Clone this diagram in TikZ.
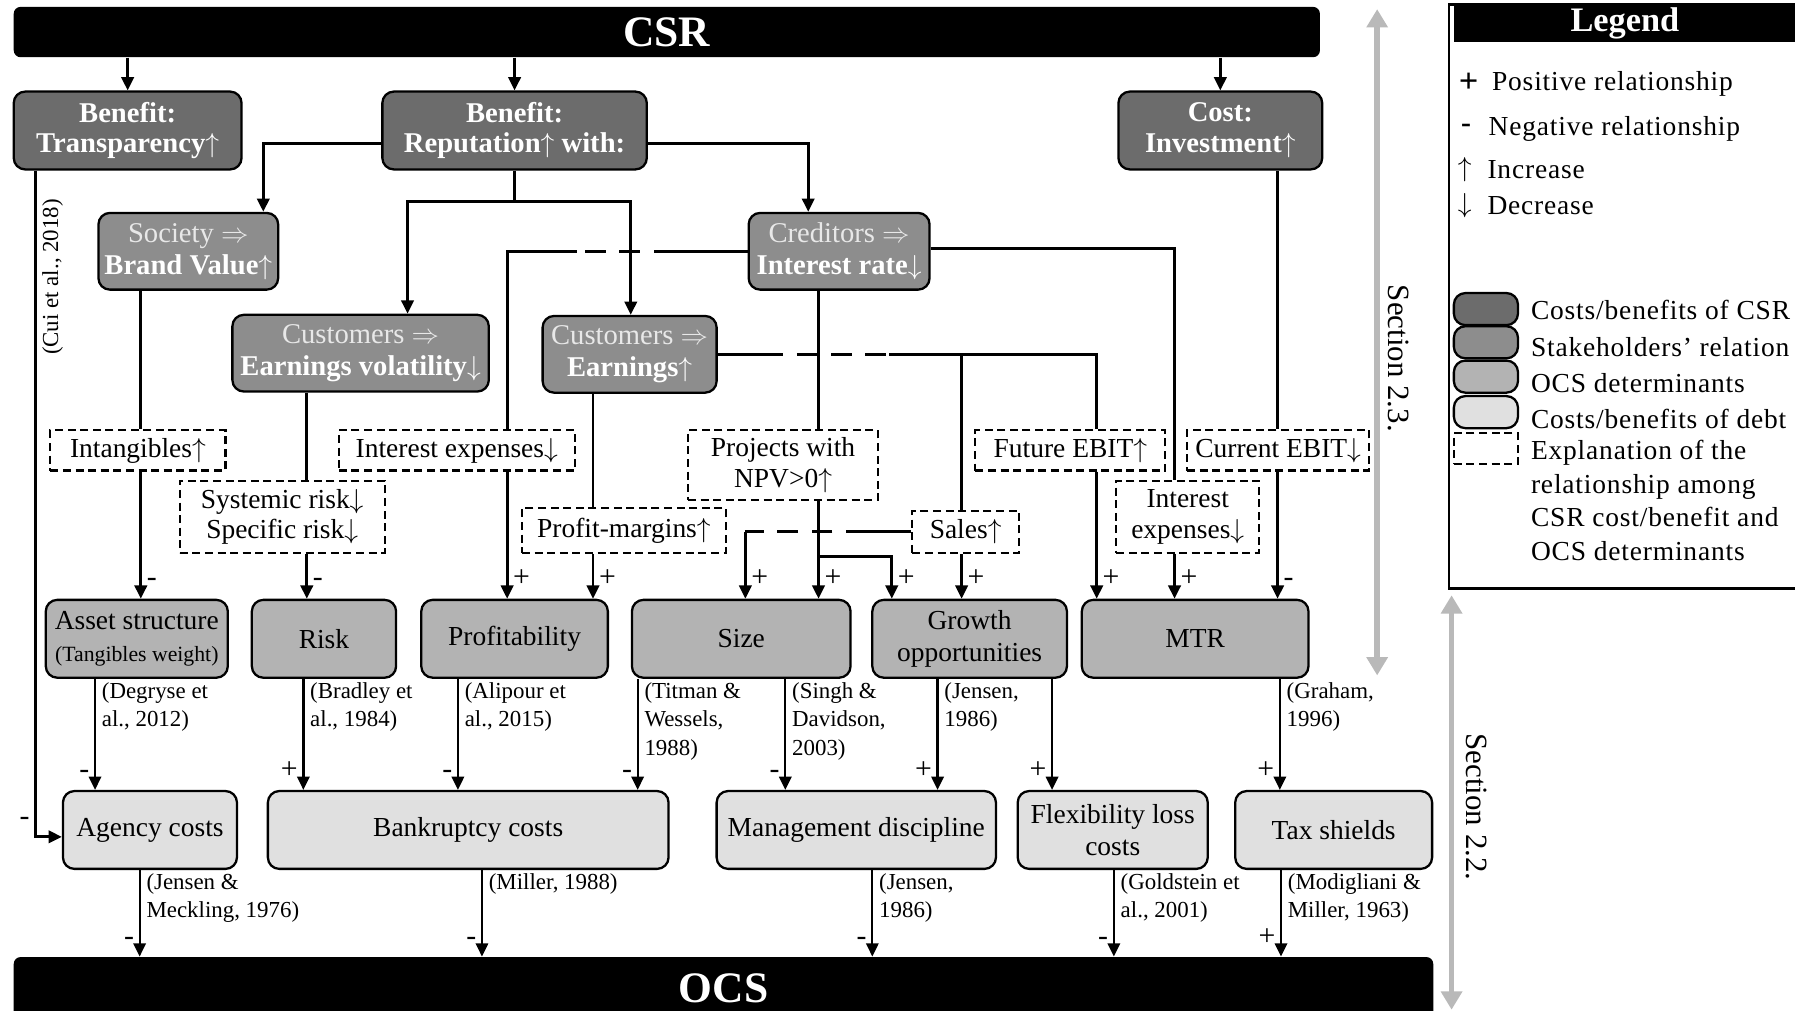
\documentclass[tikz,border=0pt]{standalone}
\usepackage{fontspec}
\setmainfont{Liberation Serif}
\newfontfamily\legfont[LetterSpace=3]{Liberation Serif}
\usetikzlibrary{arrows.meta,positioning}
\definecolor{csrgray}{RGB}{108,108,108}
\definecolor{stkgray}{RGB}{141,141,141}
\definecolor{ocsgray}{RGB}{179,179,179}
\definecolor{debtgray}{RGB}{224,224,224}
\definecolor{secgray}{RGB}{185,185,185}
\definecolor{softwhite}{RGB}{232,232,232}
\newcommand{\arup}{\ensuremath{\uparrow}}
\newcommand{\ardn}{\ensuremath{\downarrow}}
\newcommand{\arimp}{\ensuremath{\Rightarrow}}

\begin{document}
\begin{tikzpicture}[x=0.5pt,y=-0.5pt,>={Triangle[length=5.8pt,width=5.4pt]},
  every node/.style={font=\fontsize{12}{14}\selectfont},
  wh/.style 2 args={minimum width=#1*0.5pt,minimum height=#2*0.5pt},
  bar/.style={fill=black,text=white,rounded corners=3pt,inner sep=0pt,
    font=\bfseries\fontsize{19}{22}\selectfont},
  box/.style={draw,line width=1pt,rounded corners=5pt,align=center,inner sep=1pt},
  csrbox/.style={box,fill=csrgray,text=white,font=\bfseries\fontsize{12.5}{13.5}\selectfont},
  stkbox/.style={box,fill=stkgray,text=white,font=\fontsize{12.5}{14}\selectfont},
  ocsbox/.style={box,fill=ocsgray},
  debtbox/.style={box,fill=debtgray},
  expbox/.style={draw,line width=0.9pt,dash pattern=on 3.5pt off 2pt,align=center,
    inner sep=1pt,font=\fontsize{12}{13.5}\selectfont},
  conn/.style={line width=1.25pt},
  cdash/.style={conn,dash pattern=on 9pt off 6pt},
  arr/.style={conn,->},
  lowarr/.style={line width=1pt,->},
  sgn/.style={anchor=south west,inner sep=1pt,xshift=1pt,yshift=3.5pt,
    font=\fontsize{13}{14}\selectfont},
  sgnl/.style={sgn,anchor=south east,xshift=-2pt},
  cite/.style={anchor=north west,align=left,inner sep=1pt,xshift=1.5pt,
    font=\fontsize{10}{12.5}\selectfont},
  secarr/.style={secgray,line width=2.4pt,
    {Triangle[length=8pt,width=9pt]}-{Triangle[length=8pt,width=9pt]}},
  seclabel/.style={rotate=-90,font=\fontsize{13.5}{15}\selectfont},
  legtext/.style={anchor=west,inner sep=0pt,font=\legfont\fontsize{12}{14.7}\selectfont}]
\useasboundingbox (0,0) rectangle (1568,883);

% top and bottom bars
\node[bar,wh={1141}{44}] (csr) at (582.5,28) {CSR};
\node[bar,wh={1240}{54}] (ocs) at (632,863) {OCS};

% costs / benefits of CSR
\node[csrbox,wh={199}{68}] (transp) at (111.5,114) {Benefit:\\Transparency\arup};
\node[csrbox,wh={231}{68}] (reput) at (449.5,114) {Benefit:\\Reputation\arup{} with:};
\node[csrbox,wh={178}{68}] (invest) at (1066,114) {Cost:\\Investment\arup};

% stakeholders
\node[stkbox,wh={157}{67}] (society) at (164.5,219.5) {{\color{softwhite}Society \arimp}\\\textbf{Brand Value\arup}};
\node[stkbox,wh={158}{67}] (creditors) at (733,219.5) {{\color{softwhite}Creditors \arimp}\\\textbf{Interest rate\ardn}};
\node[stkbox,wh={224}{67}] (custvol) at (315,308.5) {{\color{softwhite}Customers \arimp}\\\textbf{Earnings volatility\ardn}};
\node[stkbox,wh={152}{67}] (custearn) at (550,309.5) {{\color{softwhite}Customers \arimp}\\\textbf{Earnings\arup}};

% explanations
\node[expbox,wh={153}{35}] (intang) at (120.5,393.5) {Intangibles\arup};
\node[expbox,wh={206}{35}] (intexpl) at (399,393.5) {Interest expenses\ardn};
\node[expbox,wh={179}{63}] (sysrisk) at (246.5,451.5) {Systemic risk\ardn\\Specific risk\ardn};
\node[expbox,wh={178}{39}] (profmarg) at (545,463.5) {Profit-margins\arup};
\node[expbox,wh={166}{61}] (npv) at (684,406.5) {Projects with\\NPV>0\arup};
\node[expbox,wh={93}{37}] (sales) at (843.5,464.5) {Sales\arup};
\node[expbox,wh={166}{35}] (futebit) at (935,393.5) {Future EBIT\arup};
\node[expbox,wh={159}{35}] (curebit) at (1116.5,393.5) {Current EBIT\ardn};
\node[expbox,wh={125}{63}] (intexpr) at (1037.5,451.5) {Interest\\expenses\ardn};

% OCS determinants
\node[ocsbox,wh={159}{68}] (asset) at (119.5,558) {Asset structure\\{\fontsize{9.5}{11}\selectfont(Tangibles weight)}};
\node[ocsbox,wh={126}{68}] (risk) at (283,558) {Risk};
\node[ocsbox,wh={163}{68}] (profit) at (449.5,558) {Profitability};
\node[ocsbox,wh={191}{68}] (sizeb) at (647.5,558) {Size};
\node[ocsbox,wh={170}{68}] (growth) at (847,558) {Growth\\opportunities};
\node[ocsbox,wh={198}{68}] (mtr) at (1044,558) {MTR};

% costs / benefits of debt
\node[debtbox,wh={152}{68}] (agency) at (131,725) {Agency costs};
\node[debtbox,wh={350}{68}] (bankr) at (409,725) {Bankruptcy costs};
\node[debtbox,wh={244}{68}] (mgmt) at (748,725) {Management discipline};
\node[debtbox,wh={166}{68}] (flex) at (972,725) {Flexibility loss\\costs};
\node[debtbox,wh={172}{68}] (tax) at (1165,725) {Tax shields};

% CSR -> benefits and stakeholders
\draw[arr] (csr.south -| transp.north) -- (transp.north);
\draw[arr] (csr.south -| reput.north) -- (reput.north);
\draw[arr] (csr.south -| invest.north) -- (invest.north);
\draw[arr] (reput.west |- 0,125) -| (society.north -| 230,0);
\draw[arr] (reput.east |- 0,125) -| (creditors.north -| 706,0);
\draw[conn] (reput.south) -- ++(0,27) coordinate (rsplit);
\draw[arr] (rsplit) -| (custvol.north -| 356,0);
\draw[arr] (rsplit) -| (custearn.north -| 551,0);

% transparency
\draw[arr] (transp.south -| 31,0) |- (agency.west |- 0,731) node[sgnl,pos=0.5]{-};
\node[rotate=90,font=\fontsize{10}{12}\selectfont] (cui) at (46,242) {(Cui et al., 2018)};

% stakeholders -> determinants
\draw[conn] (society.south -| 123,0) -- (intang.north -| 123,0);
\draw[arr] (intang.south -| 123,0) -- (asset.north -| 123,0) node[sgn]{-};
\draw[conn] (custvol.south -| 268,0) -- (sysrisk.north -| 268,0);
\draw[arr] (sysrisk.south -| 268,0) -- (risk.north -| 268,0) node[sgn]{-};
\draw[conn] (creditors.west) -- ++(-64,0) coordinate (cr1);
\draw[cdash] (cr1) -- ++(-85,0) coordinate (cr2);
\draw[conn] (cr2) -| (intexpl.north -| 443,0);
\draw[arr] (intexpl.south -| 443,0) -- (profit.north -| 443,0) node[sgn]{+};
\draw[conn] (custearn.south -| 518,0) -- (profmarg.north -| 518,0);
\draw[arr] (profmarg.south -| 518,0) -- (profit.north -| 518,0) node[sgn]{+};
\draw[conn] (custearn.east |- 0,310) -- ++(39,0) coordinate (ce1);
\draw[cdash] (ce1) -- ++(111,0) coordinate (ce2);
\draw[conn] (ce2) -| (futebit.north -| 958,0);
\draw[conn] (ce2 -| 840,0) -- (sales.north -| 840,0);
\draw[arr] (futebit.south -| 958,0) -- (mtr.north -| 958,0) node[sgn]{+};
\draw[conn] (creditors.east |- 0,217) -| (intexpr.north -| 1026,0);
\draw[arr] (intexpr.south -| 1026,0) -- (mtr.north -| 1026,0) node[sgn]{+};
\draw[conn] (invest.south -| 1116,0) -- (curebit.north -| 1116,0);
\draw[arr] (curebit.south -| 1116,0) -- (mtr.north -| 1116,0) node[sgn]{-};
\draw[conn] (creditors.south -| 715,0) -- (npv.north -| 715,0);
\draw[arr] (npv.south -| 715,0) -- (sizeb.north -| 715,0) node[sgn]{+};
\draw[arr] (npv.south -| 715,0) -- ++(0,48) -| (growth.north -| 779,0) node[sgn]{+};
\draw[conn] (sales.west) -- ++(-39,0) coordinate (sa1);
\draw[cdash] (sa1) -- ++(-106,0) coordinate (sa2);
\draw[arr] (sa2) -- (sizeb.north -| sa2) node[sgn]{+};
\draw[arr] (sales.south -| 840,0) -- (growth.north -| 840,0) node[sgn]{+};

% determinants -> costs/benefits of debt
\draw[lowarr] (asset.south -| 83,0) node[cite]{(Degryse et\\al., 2012)} -- (agency.north -| 83,0) node[sgnl]{-};
\draw[lowarr] (risk.south -| 265,0) node[cite]{(Bradley et\\al., 1984)} -- (bankr.north -| 265,0) node[sgnl]{+};
\draw[lowarr] (profit.south -| 400,0) node[cite]{(Alipour et\\al., 2015)} -- (bankr.north -| 400,0) node[sgnl]{-};
\draw[lowarr] (sizeb.south -| 557,0) node[cite]{(Titman \&\\Wessels,\\1988)} -- (bankr.north -| 557,0) node[sgnl]{-};
\draw[lowarr] (sizeb.south -| 686,0) node[cite]{(Singh \&\\Davidson,\\2003)} -- (mgmt.north -| 686,0) node[sgnl]{-};
\draw[lowarr] (growth.south -| 819,0) node[cite]{(Jensen,\\1986)} -- (mgmt.north -| 819,0) node[sgnl]{+};
\draw[lowarr] (growth.south -| 919,0) -- (flex.north -| 919,0) node[sgnl]{+};
\draw[lowarr] (mtr.south -| 1118,0) node[cite]{(Graham,\\1996)} -- (tax.north -| 1118,0) node[sgnl]{+};

% debt -> OCS
\draw[lowarr] (agency.south -| 122,0) node[cite]{(Jensen \&\\Meckling, 1976)} -- (ocs.north -| 122,0) node[sgnl]{-};
\draw[lowarr] (bankr.south -| 421,0) node[cite]{(Miller, 1988)} -- (ocs.north -| 421,0) node[sgnl]{-};
\draw[lowarr] (mgmt.south -| 762,0) node[cite]{(Jensen,\\1986)} -- (ocs.north -| 762,0) node[sgnl]{-};
\draw[lowarr] (flex.south -| 973,0) node[cite]{(Goldstein et\\al., 2001)} -- (ocs.north -| 973,0) node[sgnl]{-};
\draw[lowarr] (tax.south -| 1119,0) node[cite]{(Modigliani \&\\Miller, 1963)} -- (ocs.north -| 1119,0) node[sgnl]{+};

% sections
\coordinate (s23top) at (1203,8);
\coordinate (s23bot) at (1203,590);
\draw[secarr] (s23top) -- (s23bot);
\node[seclabel] (sec23) at (1222,313) {Section 2.3.};
\coordinate (s22top) at (1268,520);
\coordinate (s22bot) at (1268,882);
\draw[secarr] (s22top) -- (s22bot);
\node[seclabel] (sec22) at (1290,705) {Section 2.2.};

% legend
\node[draw,line width=1pt,wh={330}{510},anchor=north west] (legbox) at (1265,3) {};
\node[fill=black,text=white,wh={298}{32},anchor=north west,inner sep=0pt,
  font=\bfseries\fontsize{15}{16}\selectfont] (legend) at (1270,4) {Legend};
\node[legtext,font=\bfseries\fontsize{15}{16}\selectfont] (kplus) at (1274,72) {+};
\node[legtext] (tplus) at (1303,73) {Positive relationship};
\node[legtext,font=\bfseries\fontsize{13}{14}\selectfont] (kminus) at (1276,112) {-};
\node[legtext] (tminus) at (1300,113) {Negative relationship};
\node[legtext] (kup) at (1273,148) {\arup};
\node[legtext] (tup) at (1299,148) {Increase};
\node[legtext] (kdn) at (1273,180) {\ardn};
\node[legtext] (tdn) at (1299,180) {Decrease};
\node[csrbox,wh={56}{28}] (kcsr) at (1298,270) {};
\node[stkbox,wh={56}{28}] (kstk) at (1298,299) {};
\node[ocsbox,wh={56}{28}] (kocs) at (1298,329) {};
\node[debtbox,wh={56}{28}] (kdebt) at (1298,360) {};
\node[expbox,wh={56}{27}] (kexp) at (1298,392) {};
\node[legtext] (tcsr) at (1337,271) {Costs/benefits of CSR};
\node[legtext] (tstk) at (1337,303) {Stakeholders’ relation};
\node[legtext] (tocs) at (1337,335) {OCS determinants};
\node[legtext] (tdebt) at (1337,366) {Costs/benefits of debt};
\node[legtext,anchor=north west,align=left] (texp) at (1337,384) {Explanation of the\\relationship among\\CSR cost/benefit and\\OCS determinants};
\end{tikzpicture}
\end{document}
